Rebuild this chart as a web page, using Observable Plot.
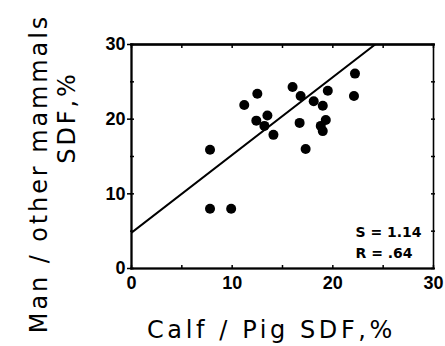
<!DOCTYPE html>
<html>
<head>
<meta charset="utf-8">
<script src="https://cdn.jsdelivr.net/npm/d3@7"></script>
<script src="https://cdn.jsdelivr.net/npm/@observablehq/plot@0.6"></script>
<style>
  html, body { margin: 0; padding: 0; background: #fff; }
  svg { display: block; }
</style>
</head>
<body>
<div id="chart"></div>
<script>
// Calf / Pig SDF (%) vs Man / other mammals SDF (%)
const calfPig = [7.8, 7.8, 9.9, 11.2, 12.5, 12.4, 13.5, 13.2, 14.1, 16.0, 16.8, 16.7, 17.3, 18.1, 19.0, 19.5, 19.3, 18.8, 19.0, 22.2, 22.1];
const manOther = [15.9, 8.0, 8.0, 21.9, 23.4, 19.8, 20.5, 19.1, 17.9, 24.3, 23.1, 19.5, 16.0, 22.4, 21.8, 23.8, 19.9, 19.1, 18.4, 26.1, 23.1];
// regression line end points
const fitX = [0, 24.2];
const fitY = [4.8, 30];
const minorTicks = [0, 5, 10, 15, 20, 25, 30];
const majorTicks = [0, 10, 20, 30];
const statsText = "S = 1.14\nR = .64";
const xTitle = "Calf / Pig SDF,%";
const yTitle = ["Man / other mammals", "SDF,%"];

const points = calfPig.map((x, i) => ({x, y: manOther[i]}));
const fit = fitX.map((x, i) => ({x, y: fitY[i]}));

const tickFont = {fontFamily: "Liberation Sans", fontWeight: "bold", fontSize: 18};
const titleFont = "DejaVu Sans";

const chart = Plot.plot({
  width: 445,
  height: 346,
  marginLeft: 131,
  marginRight: 12,
  marginTop: 44,
  marginBottom: 78,
  style: {background: "#fff", color: "#000", overflow: "visible"},
  x: {domain: [0, 30]},
  y: {domain: [0, 30]},
  marks: [
    // frame
    Plot.frame({stroke: "#000", strokeWidth: 1.6}),
    Plot.frame({anchor: "top", stroke: "#000", strokeWidth: 2.6}),
    Plot.frame({anchor: "left", stroke: "#000", strokeWidth: 2}),
    Plot.frame({anchor: "bottom", stroke: "#000", strokeWidth: 2.2}),
    // inward minor ticks
    Plot.axisX({anchor: "bottom", ticks: minorTicks, tickSize: 4, dy: -3, tickFormat: () => "", label: null, strokeWidth: 1.5}),
    Plot.axisX({anchor: "top", ticks: minorTicks, tickSize: 4, dy: 3, tickFormat: () => "", label: null, strokeWidth: 1.5}),
    Plot.axisY({anchor: "left", ticks: minorTicks, tickSize: 4, dx: 3, tickFormat: () => "", label: null, strokeWidth: 1.5}),
    Plot.axisY({anchor: "right", ticks: minorTicks, tickSize: 4, dx: -3, tickFormat: () => "", label: null, strokeWidth: 1.5}),
    // labelled axes
    Plot.axisX({anchor: "bottom", ticks: majorTicks, tickSize: 0, tickPadding: 8, label: null, ...tickFont}),
    Plot.axisY({anchor: "left", ticks: majorTicks, tickSize: 4, tickPadding: 2, label: null, strokeWidth: 1.5, ...tickFont}),
    // regression line
    Plot.line(fit, {x: "x", y: "y", stroke: "#000", strokeWidth: 2, clip: true}),
    // data points
    Plot.dot(points, {x: "x", y: "y", r: 5, fill: "#000", stroke: "none"}),
    // statistics
    Plot.text([statsText], {
      text: d => d, frameAnchor: "bottom-right",
      dx: -78, dy: -11, lineHeight: 1.5,
      lineAnchor: "bottom",
      fontFamily: "DejaVu Sans", fontWeight: "bold", fontSize: 14,
      textAnchor: "start"
    }),
    // axis titles
    Plot.text([xTitle], {
      text: d => d, frameAnchor: "bottom", dx: -11, dy: 62,
      lineAnchor: "middle", textAnchor: "middle", fontFamily: titleFont, fontSize: 24,
      fill: "#000"
    }),
    Plot.text([yTitle[0]], {
      text: d => d, frameAnchor: "left", dx: -92, dy: 17, rotate: -90,
      lineAnchor: "middle", textAnchor: "middle", fontFamily: titleFont, fontSize: 24, fill: "#000"
    }),
    Plot.text([yTitle[1]], {
      text: d => d, frameAnchor: "left", dx: -64, dy: -39, rotate: -90,
      lineAnchor: "middle", textAnchor: "middle", fontFamily: titleFont, fontSize: 24, fill: "#000"
    })
  ]
});

// letter spacing for the wide axis titles
d3.select(chart).selectAll("text").each(function () {
  const t = this.textContent;
  if (t === xTitle) this.setAttribute("letter-spacing", "3.6");
  if (t === yTitle[0] || t === yTitle[1]) this.setAttribute("letter-spacing", "2.9");
});
document.getElementById("chart").appendChild(chart);
</script>
</body>
</html>
